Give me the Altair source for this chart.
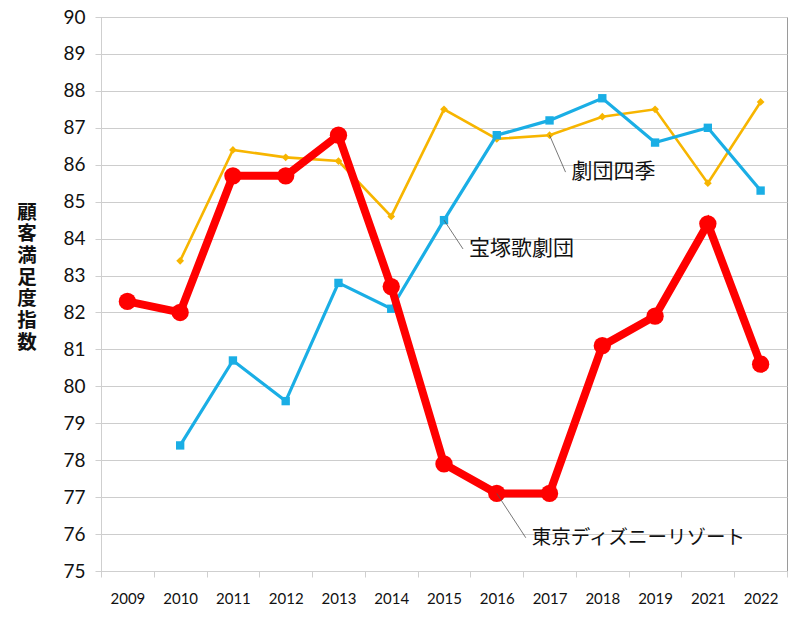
import altair as alt
import pandas as pd

years = ["2009", "2010", "2011", "2012", "2013", "2014", "2015", "2016", "2017", "2018", "2019", "2021", "2022"]
disney = [82.3, 82.0, 85.7, 85.7, 86.8, 82.7, 77.9, 77.1, 77.1, 81.1, 81.9, 84.4, 80.6]
shiki = [None, 83.4, 86.4, 86.2, 86.1, 84.6, 87.5, 86.7, 86.8, 87.3, 87.5, 85.5, 87.7]
takara = [None, 78.4, 80.7, 79.6, 82.8, 82.1, 84.5, 86.8, 87.2, 87.8, 86.6, 87.0, 85.3]
y_ticks = [75, 76, 77, 78, 79, 80, 81, 82, 83, 84, 85, 86, 87, 88, 89, 90]

names = ["劇団四季", "宝塚歌劇団", "東京ディズニーリゾート"]
colors = ["#F7B500", "#1AAEE5", "#FF0000"]

# label annotations: anchor year, anchor value, label value
label_years = ["2017", "2015", "2016"]
label_anchor = [86.8, 84.5, 77.1]
label_value = [85.8, 83.72, 75.9]
label_shift = [16, 19, 29]
label_size = [21, 21, 19.5]

rows = []
for n, vals in zip(names, [shiki, takara, disney]):
    for y, v in zip(years, vals):
        if v is not None:
            rows.append({"year": y, "value": v, "series": n})
df = pd.DataFrame(rows)

xscale = alt.Scale(domain=years, paddingInner=0, paddingOuter=0)
xaxis = alt.Axis(labelAngle=0, labelFont="Lato", labelFontSize=15,
                 labelColor="#111", labelPadding=14, tickBand="extent",
                 tickColor="#cfcfcf", tickSize=6, domainColor="#cfcfcf",
                 grid=False, labelOverlap=False)
yscale = alt.Scale(domain=[75, 90], nice=False, zero=False)
yaxis = alt.Axis(values=y_ticks, labelFont="Lato", labelFontSize=19,
                 labelColor="#111", labelPadding=10, tickColor="#cfcfcf", tickSize=6,
                 labelOverlap=False, labelBound=False, labelFlush=False,
                 domainColor="#cfcfcf", gridColor="#cdcdcd", gridWidth=1,
                 titleAngle=0, titleAlign="center", titleBaseline="top",
                 titleX=-74.5, titleY=186, titleFont="Noto Sans CJK JP",
                 titleFontSize=19.5, titleFontWeight="bold", titleLineHeight=21.7,
                 titleColor="#111")
ytitle = ["顧", "客", "満", "足", "度", "指", "数"]

xenc = alt.X("year:N", scale=xscale, axis=xaxis, title=None)
yenc = alt.Y("value:Q", scale=yscale, axis=yaxis, title=ytitle)

base = alt.Chart(df)
layers = []
styles = {
    "劇団四季": dict(w=2.6, shape="diamond", size=60),
    "宝塚歌劇団": dict(w=3.2, shape="square", size=70),
    "東京ディズニーリゾート": dict(w=8, shape="circle", size=300),
}
for n, c in zip(names, colors):
    s = styles[n]
    sub = base.transform_filter(alt.datum.series == n)
    layers.append(sub.mark_line(color=c, strokeWidth=s["w"]).encode(x=xenc, y=yenc))
    layers.append(sub.mark_point(color=c, filled=True, opacity=1, shape=s["shape"], size=s["size"])
                  .encode(x=xenc, y=yenc))

ann = pd.DataFrame({"year": label_years, "value": label_anchor, "value2": label_value,
                    "label": names})
annb = alt.Chart(ann)
for i in range(3):
    one = annb.transform_filter(alt.datum.label == names[i])
    layers.append(one.mark_rule(color="#555", strokeWidth=0.8, x2Offset=label_shift[i])
                  .encode(x=xenc, y=yenc, x2=alt.X2("year:N"), y2="value2:Q"))
    layers.append(one.mark_text(align="left", baseline="middle", dx=label_shift[i] + 6,
                                font="Noto Sans CJK JP", fontSize=label_size[i], color="#111")
                  .encode(x=xenc, y=alt.Y("value2:Q", scale=yscale, axis=yaxis, title=ytitle),
                          text="label:N"))

chart = alt.layer(*layers).properties(
    width=686, height=554,
    autosize=alt.AutoSizeParams(type="none"),
    padding={"left": 93, "top": 9, "right": 5, "bottom": 40},
).configure_view(stroke="#9a9a9a", strokeWidth=1)

chart.save("out.html", embed_options={"renderer": "svg", "actions": False})
